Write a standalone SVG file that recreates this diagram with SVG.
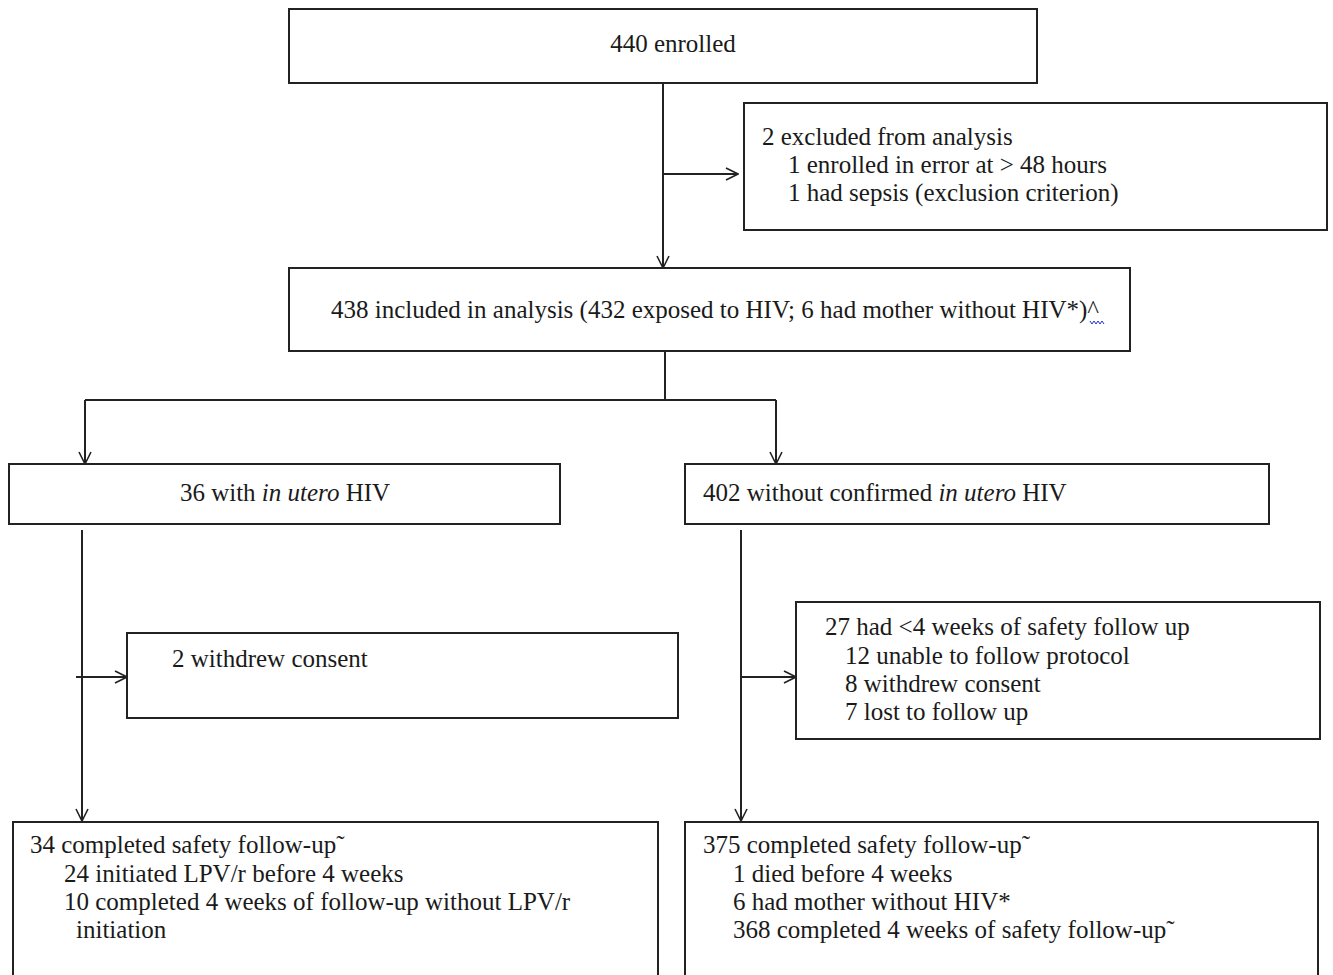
<svg xmlns="http://www.w3.org/2000/svg" width="1333" height="975" viewBox="0 0 1333 975">
<style>
.box{fill:#fff;stroke:#222;stroke-width:2}
.t{font-family:"Liberation Serif","Times New Roman",serif;font-size:25px;fill:#1a1a1a}
.c{text-anchor:middle}
.ln{fill:none;stroke:#222;stroke-width:2}
</style>
<defs>
<marker id="arr" viewBox="0 0 14 14" refX="13" refY="7" markerWidth="14" markerHeight="14" markerUnits="userSpaceOnUse" orient="auto">
<path d="M1,1 L13,7 L1,13" fill="none" stroke="#222" stroke-width="1.6"/>
</marker>
</defs>
<rect width="1333" height="975" fill="#fff"/>
<g id="connectors">
<path class="ln" d="M663,84 L663,268" marker-end="url(#arr)"/>
<path class="ln" d="M663,174 L738,174" marker-end="url(#arr)"/>
<path class="ln" d="M665,351 L665,400"/>
<path class="ln" d="M85,400 L776,400"/>
<path class="ln" d="M85,400 L85,464" marker-end="url(#arr)"/>
<path class="ln" d="M776,400 L776,464" marker-end="url(#arr)"/>
<path class="ln" d="M82,530 L82,821" marker-end="url(#arr)"/>
<path class="ln" d="M76,677 L127,677" marker-end="url(#arr)"/>
<path class="ln" d="M741,530 L741,821" marker-end="url(#arr)"/>
<path class="ln" d="M741,677 L796,677" marker-end="url(#arr)"/>
</g>
<g id="enrolled">
<rect class="box" x="289" y="9" width="748" height="74"/>
<text class="t c" x="673" y="52">440 enrolled</text>
</g>
<g id="excluded">
<rect class="box" x="744" y="103" width="583" height="127"/>
<text class="t" x="762" y="145">2 excluded from analysis</text>
<text class="t" x="788" y="173">1 enrolled in error at &gt; 48 hours</text>
<text class="t" x="788" y="201">1 had sepsis (exclusion criterion)</text>
</g>
<g id="included">
<rect class="box" x="289" y="268" width="841" height="83"/>
<text class="t" x="331" y="318">438 included in analysis (432 exposed to HIV; 6 had mother without HIV*)^</text>
<path d="M1090,321 l2,3 l2,-3 l2,3 l2,-3 l2,3 l2,-3 l2,3" fill="none" stroke="#2233cc" stroke-width="1"/>
</g>
<g id="inutero">
<rect class="box" x="9" y="464" width="551" height="60"/>
<text class="t c" x="285" y="501">36 with <tspan font-style="italic">in utero</tspan> HIV</text>
</g>
<g id="without">
<rect class="box" x="685" y="464" width="584" height="60"/>
<text class="t" x="703" y="501">402 without confirmed <tspan font-style="italic">in utero</tspan> HIV</text>
</g>
<g id="withdrew">
<rect class="box" x="127" y="633" width="551" height="85"/>
<text class="t" x="172" y="667">2 withdrew consent</text>
</g>
<g id="lessfollow">
<rect class="box" x="796" y="602" width="524" height="137"/>
<text class="t" x="825" y="635">27 had &lt;4 weeks of safety follow up</text>
<text class="t" x="845" y="664">12 unable to follow protocol</text>
<text class="t" x="845" y="692">8 withdrew consent</text>
<text class="t" x="845" y="720">7 lost to follow up</text>
</g>
<g id="completed34">
<rect class="box" x="13" y="822" width="645" height="170"/>
<text class="t" x="30" y="853">34 completed safety follow-up˜</text>
<text class="t" x="64" y="882">24 initiated LPV/r before 4 weeks</text>
<text class="t" x="64" y="910">10 completed 4 weeks of follow-up without LPV/r</text>
<text class="t" x="76" y="938">initiation</text>
</g>
<g id="completed375">
<rect class="box" x="685" y="822" width="633" height="170"/>
<text class="t" x="703" y="853">375 completed safety follow-up˜</text>
<text class="t" x="733" y="882">1 died before 4 weeks</text>
<text class="t" x="733" y="910">6 had mother without HIV*</text>
<text class="t" x="733" y="938">368 completed 4 weeks of safety follow-up˜</text>
</g>
</svg>
